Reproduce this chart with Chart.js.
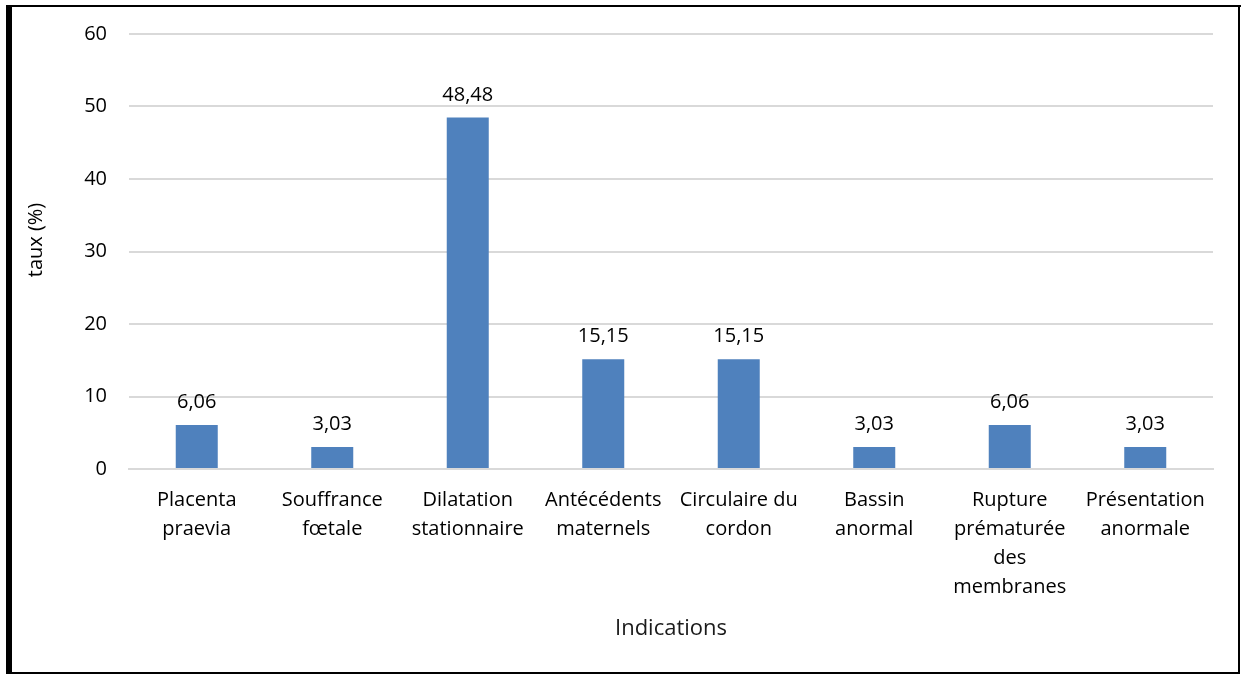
<!DOCTYPE html>
<html>
<head>
<meta charset="utf-8">
<script src="https://cdn.jsdelivr.net/npm/chart.js@4"></script>
<style>
  html, body { margin: 0; padding: 0; background: #fff; }
  #wrap { position: absolute; left: 0; top: 0; width: 1241px; height: 674px; }
</style>
</head>
<body>
<div id="wrap"><canvas id="c" width="1241" height="674"></canvas></div>
<script>
// Indications de césarienne et leur taux (%)
const categories = [
  ["Placenta", "praevia"],
  ["Souffrance", "fœtale"],
  ["Dilatation", "stationnaire"],
  ["Antécédents", "maternels"],
  ["Circulaire du", "cordon"],
  ["Bassin", "anormal"],
  ["Rupture", "prématurée", "des", "membranes"],
  ["Présentation", "anormale"]
];
const taux = [6.06, 3.03, 48.48, 15.15, 15.15, 3.03, 6.06, 3.03];
const yTicks = [0, 10, 20, 30, 40, 50, 60];
const yTitle = 'taux (%)';

const FONT = "'Open Sans', sans-serif";

// Frame around the figure: heavy left rule, thin rules elsewhere
const framePlugin = {
  id: 'frame',
  afterDraw(chart) {
    const ctx = chart.ctx;
    ctx.save();
    ctx.fillStyle = '#000';
    ctx.fillRect(6, 5, 6, 669);       // left
    ctx.fillRect(6, 5, 1235, 2);      // top
    ctx.fillRect(1238, 5, 2, 669);    // right
    ctx.fillRect(6, 672, 1234, 2);    // bottom
    ctx.restore();
  }
};

// Vertical axis title, rotated
const yTitlePlugin = {
  id: 'yTitle',
  afterDraw(chart) {
    const ctx = chart.ctx;
    ctx.save();
    ctx.translate(36, 240);
    ctx.rotate(-Math.PI / 2);
    ctx.font = '20px ' + FONT;
    ctx.fillStyle = '#000';
    ctx.textAlign = 'center';
    ctx.textBaseline = 'middle';
    ctx.fillText(yTitle, 0, 0);
    ctx.restore();
  }
};

// Value labels above each bar, decimal comma
const valueLabels = {
  id: 'valueLabels',
  afterDatasetsDraw(chart) {
    const ctx = chart.ctx;
    const meta = chart.getDatasetMeta(0);
    ctx.save();
    ctx.font = '20px ' + FONT;
    ctx.fillStyle = '#000';
    ctx.textAlign = 'center';
    ctx.textBaseline = 'alphabetic';
    meta.data.forEach((bar, i) => {
      const txt = taux[i].toFixed(2).replace('.', ',');
      ctx.fillText(txt, bar.x, bar.y - 17);
    });
    ctx.restore();
  }
};

new Chart(document.getElementById('c'), {
  type: 'bar',
  data: {
    labels: categories,
    datasets: [{
      data: taux,
      backgroundColor: '#4F81BD',
      borderWidth: 0,
      categoryPercentage: 1.0,
      barPercentage: 0.31
    }]
  },
  options: {
    responsive: false,
    animation: false,
    devicePixelRatio: 1,
    layout: { padding: { left: 0, right: 28, top: 33, bottom: 0 } },
    plugins: { legend: { display: false }, tooltip: { enabled: false } },
    scales: {
      x: {
        grid: { display: false, drawTicks: false },
        border: { display: true, color: '#d9d9d9', width: 2 },
        ticks: {
          color: '#000',
          font: { family: FONT, size: 20, lineHeight: 1.45 },
          padding: 17,
          maxRotation: 0,
          autoSkip: false
        },
        title: {
          display: true,
          text: 'Indications',
          color: '#1a1a1a',
          font: { family: FONT, size: 22 },
          padding: { top: 0, bottom: 32 }
        },
        afterFit(axis) { axis.height = 205; }
      },
      y: {
        min: 0,
        max: 60,
        afterBuildTicks(axis) { axis.ticks = yTicks.map(v => ({ value: v })); },
        grid: { color: '#d9d9d9', lineWidth: 2, drawTicks: false },
        border: { display: false },
        ticks: {
          color: '#000',
          font: { family: FONT, size: 20 },
          padding: 22
        },
        afterFit(axis) { axis.width = 129; }
      }
    }
  },
  plugins: [valueLabels, yTitlePlugin, framePlugin]
});
</script>
</body>
</html>
